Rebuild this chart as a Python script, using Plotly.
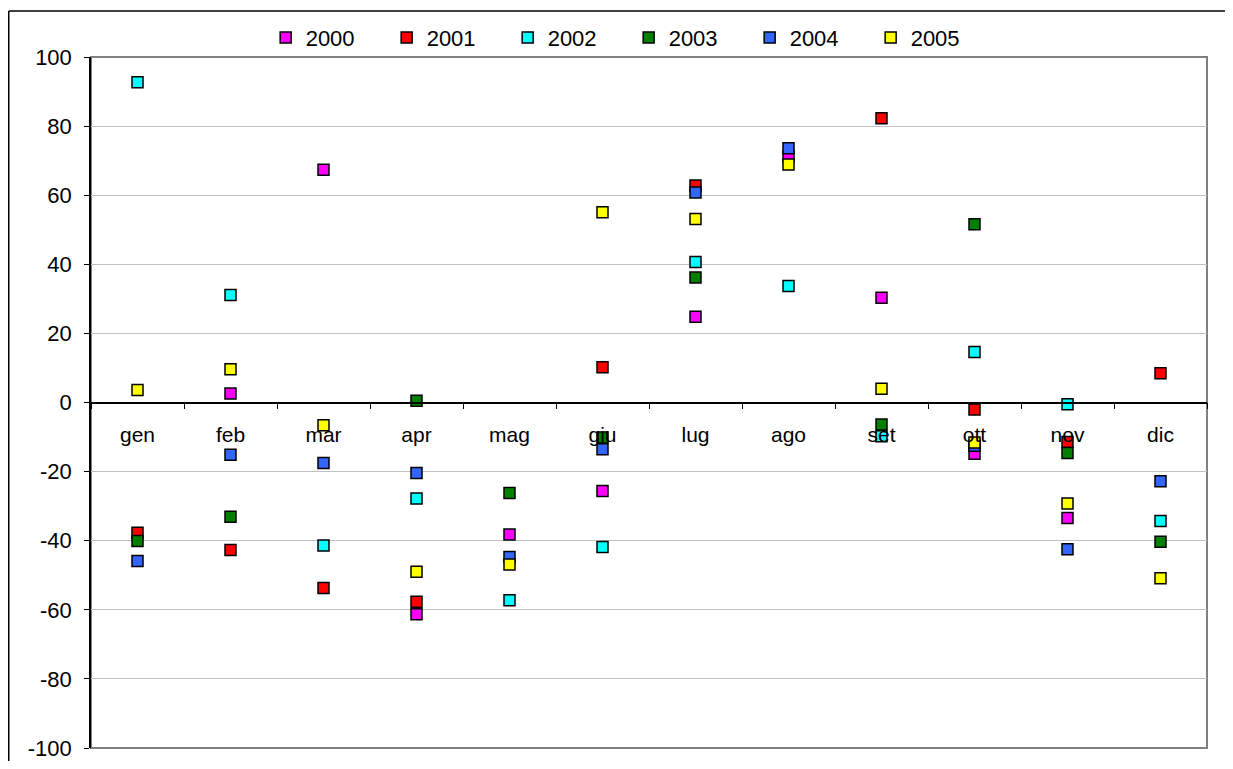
import plotly.graph_objects as go

months = ["gen", "feb", "mar", "apr", "mag", "giu", "lug", "ago", "set", "ott", "nov", "dic"]
years = ["2000", "2001", "2002", "2003", "2004", "2005"]

v2000 = [None, 2.6, 67.4, -61.3, -38.2, -25.6, 24.8, 71.3, 30.3, -14.8, -33.4, None]
v2001 = [-37.7, -42.7, -53.7, -57.7, None, 10.2, 62.8, None, 82.3, -2.0, -11.4, 8.5]
v2002 = [92.7, 31.1, -41.4, -27.8, -57.2, -41.8, 40.7, 33.7, -9.8, 14.6, -0.5, -34.3]
v2003 = [-40.1, -33.1, None, 0.5, -26.2, -10.1, 36.2, None, -6.4, 51.6, -14.6, -40.3]
v2004 = [-45.9, -15.1, -17.5, -20.4, -44.7, -13.5, 60.8, 73.6, None, -12.5, -42.5, -22.8]
v2005 = [3.6, 9.6, -6.6, -49.0, -46.9, 55.1, 53.1, 68.9, 4.0, -11.6, -29.2, -50.9]

y_ticks = [-100, -80, -60, -40, -20, 0, 20, 40, 60, 80, 100]
y_labels = ["-100", "-80", "-60", "-40", "-20", "0", "20", "40", "60", "80", "100"]

series = [v2000, v2001, v2002, v2003, v2004, v2005]
colors = ["#FF00FF", "#FF0000", "#00FFFF", "#008000", "#3366FF", "#FFFF00"]

FONT = "Liberation Sans, Arial, sans-serif"

fig = go.Figure()
for name, vals, col in zip(years, series, colors):
    fig.add_trace(go.Scatter(
        x=months, y=vals, name=name, mode="markers",
        marker=dict(symbol="square", size=11, color=col,
                    line=dict(color="#000000", width=1.5)),
    ))

fig.update_layout(
    width=1217, height=753,
    margin=dict(l=83, r=18, t=49, b=13, autoexpand=False),
    paper_bgcolor="white", plot_bgcolor="white",
    font=dict(family=FONT, size=22, color="black"),
    showlegend=True,
    legend=dict(orientation="h", x=0.1565, xanchor="left", y=1.028, yanchor="middle",
                font=dict(size=22), bgcolor="rgba(0,0,0,0)",
                entrywidth=76, entrywidthmode="pixels", itemwidth=30),
    xaxis=dict(type="category", anchor="free", position=0.5, automargin=False,
               showline=True, linecolor="black", linewidth=1.5,
               ticks="outside", tickson="boundaries", ticklen=6, tickcolor="black",
               showgrid=False, zeroline=False,
               tickfont=dict(size=21), ticklabelstandoff=14,
               range=[-0.5, 11.5]),
    yaxis=dict(range=[-100, 100], tickmode="array", tickvals=y_ticks, ticktext=y_labels,
               automargin=False,
               showline=True, linecolor="black", linewidth=1.5,
               ticks="outside", ticklen=5, tickcolor="black",
               showgrid=True, gridcolor="#C0C0C0", gridwidth=1,
               zeroline=False, tickfont=dict(size=22), ticklabelstandoff=8),
    shapes=[
        dict(type="rect", xref="paper", yref="paper", x0=0, x1=1, y0=0, y1=1,
             line=dict(color="#808080", width=2), layer="below"),
        dict(type="line", xref="paper", yref="paper", x0=-0.0737, x1=-0.0737, y0=-0.1, y1=1.0666,
             line=dict(color="black", width=1.5)),
        dict(type="line", xref="paper", yref="paper", x0=-0.0737, x1=1.1, y0=1.0666, y1=1.0666,
             line=dict(color="black", width=1.5)),
    ],
)

fig.write_html("out.html")
